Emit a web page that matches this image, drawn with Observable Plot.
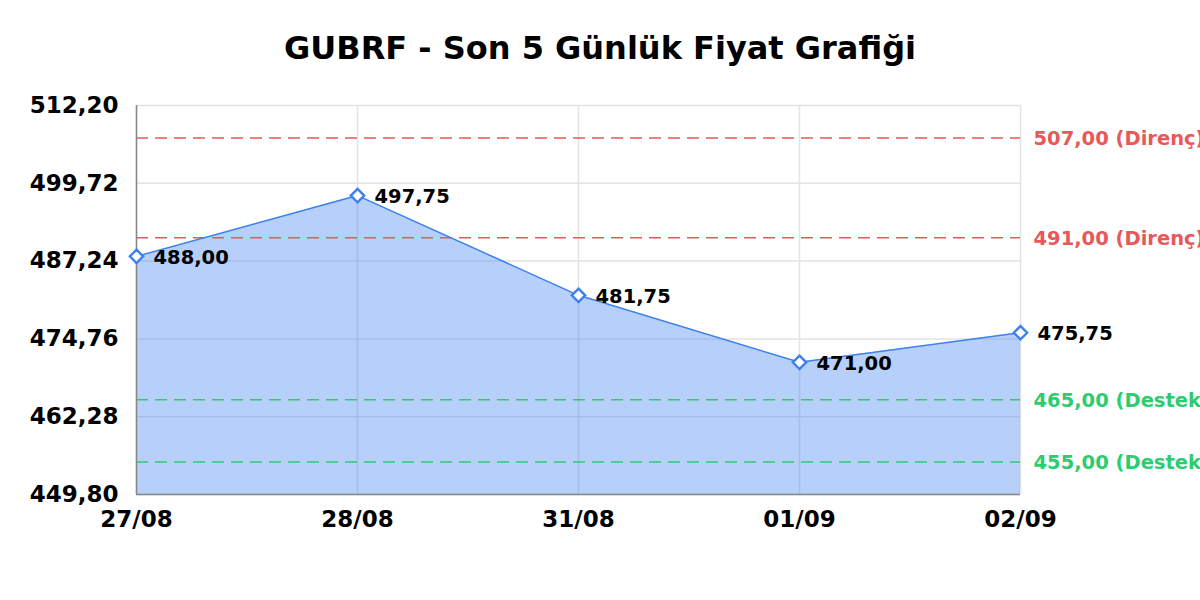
<!DOCTYPE html>
<html>
<head>
<meta charset="utf-8">
<script src="https://cdn.jsdelivr.net/npm/d3@7"></script>
<script src="https://cdn.jsdelivr.net/npm/@observablehq/plot@0.6"></script>
<style>
  html, body { margin: 0; padding: 0; background: #fff; }
  #wrap { position: relative; width: 1200px; height: 600px; font-family: "DejaVu Sans", sans-serif; }
  #title { position: absolute; top: 30px; left: 0; width: 1200px; text-align: center; font-weight: bold; font-size: 32px; color: #000; line-height: 36px; }
  #chart { position: absolute; top: 0; left: 0; }
</style>
</head>
<body>
<div id="wrap">
  <div id="title">GUBRF - Son 5 Günlük Fiyat Grafiği</div>
  <div id="chart"></div>
</div>
<script>
const dates = ["27/08", "28/08", "31/08", "01/09", "02/09"];
const prices = [488.00, 497.75, 481.75, 471.00, 475.75];
const yTicks = [449.80, 462.28, 474.76, 487.24, 499.72, 512.20];
const resistance = [507.00, 491.00];
const support = [465.00, 455.00];

const fmt = v => v.toFixed(2).replace(".", ",");
const data = dates.map((d, i) => ({date: d, price: prices[i]}));
const yMin = yTicks[0], yMax = yTicks[yTicks.length - 1];
const blue = "#3d80f0";
const red = "#e8585a";
const green = "#2ecc71";

const chart = Plot.plot({
  width: 1200,
  height: 600,
  marginTop: 105,
  marginBottom: 106,
  marginLeft: 136,
  marginRight: 180,
  style: {fontFamily: "DejaVu Sans, sans-serif", background: "transparent"},
  x: {type: "point", domain: dates, padding: 0, label: null},
  y: {domain: [yMin, yMax], ticks: yTicks, label: null},
  marks: [
    Plot.gridY(yTicks, {stroke: "#e3e3e3", strokeOpacity: 1, strokeWidth: 1.5}),
    Plot.gridX(dates, {stroke: "#e3e3e3", strokeOpacity: 1, strokeWidth: 1.5}),
    Plot.areaY(data, {x: "date", y1: yMin, y2: "price", fill: blue, fillOpacity: 0.37}),
    Plot.ruleY(resistance, {stroke: red, strokeWidth: 1.5, strokeDasharray: "12,7"}),
    Plot.ruleY(support, {stroke: green, strokeWidth: 1.5, strokeDasharray: "12,7"}),
    Plot.text(resistance, {y: d => d, text: d => fmt(d) + " (Direnç)", frameAnchor: "right", textAnchor: "start", dx: 13, dy: 1, fill: red, fontSize: 19.5, fontWeight: "bold"}),
    Plot.text(support, {y: d => d, text: d => fmt(d) + " (Destek)", frameAnchor: "right", textAnchor: "start", dx: 13, dy: 1, fill: green, fontSize: 19.5, fontWeight: "bold"}),
    Plot.line(data, {x: "date", y: "price", stroke: blue, strokeWidth: 1.5}),
    Plot.ruleX([dates[0]], {stroke: "#888", strokeWidth: 1.5}),
    Plot.ruleY([yMin], {stroke: "#888", strokeWidth: 1.5}),
    Plot.dot(data, {x: "date", y: "price", symbol: "diamond2", r: 6, fill: "white", stroke: blue, strokeWidth: 2.4}),
    Plot.text(data, {x: "date", y: "price", text: d => fmt(d.price), textAnchor: "start", dx: 17, dy: 1, fill: "#000", fontSize: 19.5, fontWeight: "bold"}),
    Plot.axisY(yTicks, {tickSize: 0, tickPadding: 18, tickFormat: fmt, fontSize: 23, fontWeight: "bold", fill: "#000"}),
    Plot.axisX(dates, {tickSize: 0, tickPadding: 16, fontSize: 23, fontWeight: "bold", fill: "#000"})
  ]
});
document.getElementById("chart").appendChild(chart);
</script>
</body>
</html>
